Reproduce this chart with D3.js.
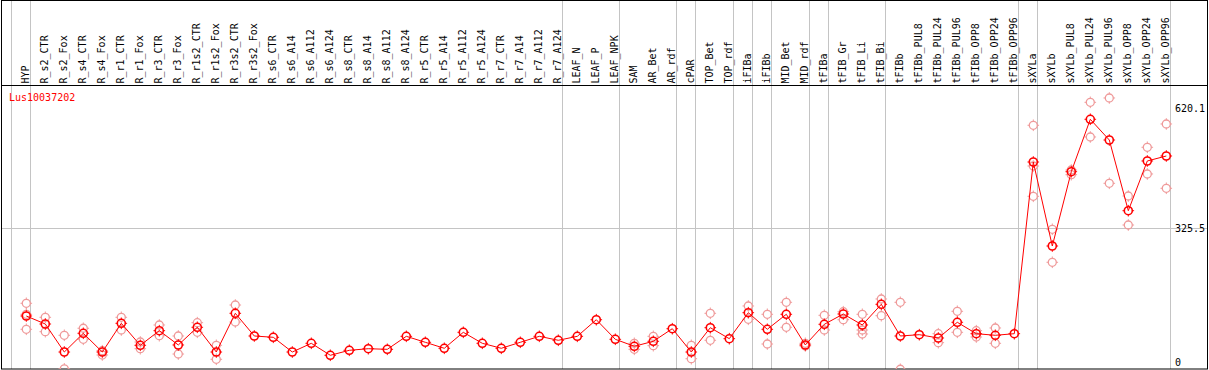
<!DOCTYPE html>
<html><head><meta charset="utf-8">
<script src="https://cdn.jsdelivr.net/npm/d3@7"></script>
<style>
html,body{margin:0;padding:0;background:#fff;}
svg text{font-family:"DejaVu Sans Mono",monospace;font-size:10px;}
</style></head>
<body><svg id="c" width="1209" height="370"></svg>
<script>
const categories = ["HYP","R_s2_CTR","R_s2_Fox","R_s4_CTR","R_s4_Fox","R_r1_CTR","R_r1_Fox","R_r3_CTR","R_r3_Fox","R_r1s2_CTR","R_r1s2_Fox","R_r3s2_CTR","R_r3s2_Fox","R_s6_CTR","R_s6_A14","R_s6_A112","R_s6_A124","R_s8_CTR","R_s8_A14","R_s8_A112","R_s8_A124","R_r5_CTR","R_r5_A14","R_r5_A112","R_r5_A124","R_r7_CTR","R_r7_A14","R_r7_A112","R_r7_A124","LEAF_N","LEAF_P","LEAF_NPK","SAM","AR_Bet","AR_rdf","cPAR","TOP_Bet","TOP_rdf","iFIBa","iFIBb","MID_Bet","MID_rdf","tFIBa","tFIB_Gr","tFIB_Li","tFIB_Bi","tFIBb","tFIBb_PUL8","tFIBb_PUL24","tFIBb_PUL96","tFIBb_OPP8","tFIBb_OPP24","tFIBb_OPP96","sXYLa","sXYLb","sXYLb_PUL8","sXYLb_PUL24","sXYLb_PUL96","sXYLb_OPP8","sXYLb_OPP24","sXYLb_OPP96"];
const means = [111.3,91.7,23.2,69,23.2,93.4,39.6,75.4,40.4,83.7,23.2,117.9,62.4,59.2,23.2,44.5,15.2,27.4,31.3,29.8,61.6,47,32.3,71.4,44.5,32.3,47,61.6,51.9,61.6,102.2,54.3,37.2,49.4,80.2,23.2,82.7,55.8,119.4,78.8,115.5,40.4,91,116.2,89.3,139.9,62.4,65.6,57.5,95.9,68,64.1,68,488,282.5,464.3,592.5,541.8,368.9,490.5,502.7];
const rep1 = [142.4,108.1,64.1,81.3,26.4,108.1,47.7,89.3,62.4,95,39.6,138.2,null,null,null,null,null,null,null,null,null,null,null,null,null,null,null,null,null,null,null,null,44.5,61.6,null,39.6,117.9,null,135.8,115.5,144.8,44.5,113,121.8,115.5,152.9,144.8,null,68,122.8,75.4,82,null,577.8,323.4,468.4,634,644.6,404.8,524,581];
const rep2 = [115.5,72.9,-18,54.3,15.9,77,31.3,63.1,18.3,71.4,5.4,96.6,null,null,null,null,null,null,null,null,null,null,null,null,null,null,null,null,null,null,null,null,29.8,38.7,null,6.8,51.9,null,103.2,42.8,83.7,37.9,77,102.2,77,112,-19,null,46,71.4,59.9,44.5,null,478.2,242.7,457,549.2,435.9,333.9,458.7,423.7];
const rep3 = [78.8,null,null,null,null,null,null,null,null,null,null,null,null,null,null,null,null,null,null,null,null,null,null,null,null,null,null,null,null,null,null,null,null,null,null,null,null,null,null,null,null,null,null,null,67.3,null,null,null,null,null,null,null,null,404.1,null,null,null,null,null,null,null];
const groupEnds = ["HYP","R_r7_A124","LEAF_NPK","AR_rdf","cPAR","TOP_rdf","iFIBa","iFIBb","MID_rdf","tFIBa","tFIB_Bi","tFIBb_OPP96","sXYLa","sXYLb_OPP96"];
const yTicks = [620.1, 325.5, 0];
const yGrid = [325.5];
const geneName = "Lus10037202";

const svg = d3.select("#c");
const W = 1209, H = 370;
const x = d3.scaleBand().domain(categories).range([11, 11 + 19*categories.length]).padding(0);
const px = c => x(c) + 15.3;
const y = d3.scaleLinear().domain([0, 620.1]).range([361.5, 108]);

svg.append("rect").attr("x",0).attr("y",0).attr("width",W).attr("height",H).attr("fill","#fff");

// vertical group separators
const sepX = [x(categories[0])].concat(groupEnds.map(c => x(c) + x.bandwidth()));
svg.append("g").selectAll("line").data(sepX).join("line")
  .attr("x1", d => Math.round(d) + 0.5).attr("x2", d => Math.round(d) + 0.5)
  .attr("y1", 0).attr("y2", 369).attr("stroke", "#c4c4c4").attr("stroke-width", 1);

// horizontal grid
svg.append("g").selectAll("line").data(yGrid).join("line")
  .attr("x1", 1).attr("x2", 1207)
  .attr("y1", d => Math.round(y(d)) + 0.5).attr("y2", d => Math.round(y(d)) + 0.5)
  .attr("stroke", "#c4c4c4").attr("stroke-width", 1);

// borders
svg.append("rect").attr("x",1.5).attr("y",0.5).attr("width",1206).attr("height",368.5)
  .attr("fill","none").attr("stroke","#000").attr("stroke-width",1);
svg.append("line").attr("x1",1).attr("x2",1208).attr("y1",85.5).attr("y2",85.5).attr("stroke","#000");

// category labels
svg.append("g").selectAll("text").data(categories).join("text")
  .attr("transform", d => `translate(${px(d) + 3},83.5) rotate(-90)`)
  .attr("text-anchor","start").attr("fill","#000").text(d => d);

// right axis labels
svg.append("g").selectAll("text").data(yTicks).join("text")
  .attr("x", 1175).attr("y", d => y(d) + 4).attr("fill","#000").text(d => String(d));

// gene name
svg.append("text").attr("x", 9).attr("y", 100.5).attr("fill", "#ff0000").text(geneName);

// clip
svg.append("clipPath").attr("id","plotclip").append("rect")
  .attr("x",2).attr("y",86).attr("width",1205).attr("height",283);
const plot = svg.append("g").attr("clip-path","url(#plotclip)");

function marker(g, color, sw) {
  g.append("circle").attr("r", 4).attr("fill","none").attr("stroke", color).attr("stroke-width", sw);
  [[0,-1],[0,1],[-1,0],[1,0]].forEach(([dx,dy]) => {
    g.append("line").attr("x1", dx*4).attr("y1", dy*4).attr("x2", dx*5.8).attr("y2", dy*5.8)
      .attr("stroke", color).attr("stroke-width", 1);
  });
}

const repPts = [];
[rep1, rep2, rep3].forEach(arr => arr.forEach((v, i) => { if (v !== null) repPts.push({c: categories[i], v}); }));
plot.append("g").selectAll("g").data(repPts).join("g")
  .attr("transform", d => `translate(${px(d.c)},${y(d.v)})`)
  .each(function(){ marker(d3.select(this), "#ef9a9a", 1.3); });

const line = d3.line().x((d,i) => px(categories[i])).y(d => y(d));
plot.append("path").datum(means).attr("d", line).attr("fill","none").attr("stroke","#ff0000").attr("stroke-width",1);

plot.append("g").selectAll("g").data(means).join("g")
  .attr("transform", (d,i) => `translate(${px(categories[i])},${y(d)})`)
  .each(function(){ marker(d3.select(this), "#ff0000", 1.6); });
</script></body></html>
